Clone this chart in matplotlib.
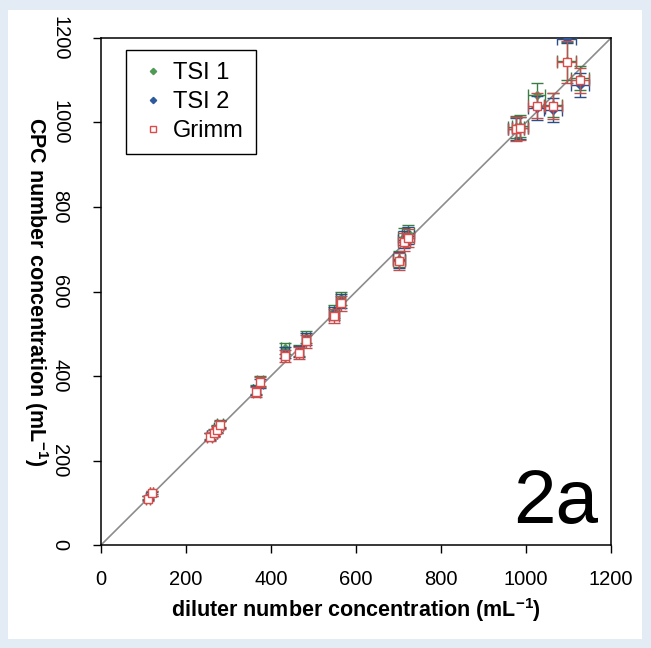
import matplotlib
matplotlib.use('Agg')
import matplotlib.pyplot as plt
from matplotlib.patches import Rectangle

plt.rcParams['font.family'] = ['Liberation Sans', 'DejaVu Sans']
plt.rcParams['mathtext.fontset'] = 'custom'
plt.rcParams['mathtext.rm'] = 'Liberation Sans:bold'
plt.rcParams['mathtext.default'] = 'rm'

# diluter concentration (x) and its error
diluter = [111, 119, 256, 266, 272, 280, 365, 374, 433, 467, 482,
           548, 564, 701, 713, 722, 976, 986, 1025, 1064, 1096, 1127]
diluter_err = [4, 4, 6, 6, 6, 6, 8, 8, 9, 9, 10,
               11, 11, 14, 14, 14, 19, 19, 20, 21, 22, 22]

# CPC readings
tsi1 = [112, 124, 258, 267, 276, 287, 368, 388, 466, 460, 493,
        553, 584, 678, 730, 738, 990, 992, 1065, 1042, 1146, 1105]
tsi1_err = [4, 4, 8, 8, 8, 8, 11, 11, 13, 13, 14,
            15, 16, 19, 20, 20, 26, 26, 28, 28, 45, 28]
tsi2 = [111, 121, 257, 265, 274, 285, 366, 383, 455, 458, 488,
        548, 578, 675, 723, 732, 985, 988, 1034, 1030, 1198, 1089]
tsi2_err = [4, 4, 8, 8, 8, 8, 11, 11, 13, 13, 14,
            15, 16, 19, 20, 20, 26, 26, 28, 28, 10, 28]
grimm = [110, 122, 255, 264, 273, 284, 362, 385, 448, 455, 482,
         542, 572, 672, 718, 726, 984, 986, 1040, 1039, 1144, 1100]
grimm_err = [5, 5, 9, 9, 9, 9, 12, 12, 14, 14, 15,
             16, 17, 20, 21, 21, 28, 28, 30, 30, 50, 30]

fig = plt.figure(figsize=(6.51, 6.48), dpi=100, facecolor='#e3ebf5')
fig.patches.append(Rectangle((8 / 651, 9 / 648), 634 / 651, 629 / 648,
                             transform=fig.transFigure, facecolor='white',
                             edgecolor='none', zorder=-10))
ax = fig.add_axes([101 / 651, 103 / 648, 510 / 651, 507 / 648])
ax.set_zorder(5)

ax.plot([0, 1200], [0, 1200], color='#8c8c8c', lw=1.2, zorder=1)

ax.errorbar(diluter, tsi1, xerr=diluter_err, yerr=tsi1_err, fmt='D',
            ms=4, color='#4f9a55', mec='#4f9a55', ecolor='#3d7d44',
            elinewidth=1, capsize=4, label='TSI 1', zorder=2)
ax.errorbar(diluter, tsi2, xerr=diluter_err, yerr=tsi2_err, fmt='D',
            ms=4, color='#2c5a9c', mec='#2c5a9c', ecolor='#2a4f86',
            elinewidth=1, capsize=4, label='TSI 2', zorder=3)
ax.errorbar(diluter, grimm, xerr=diluter_err, yerr=grimm_err, fmt='s',
            ms=6, mfc='white', mec='#dd4b4b', mew=1, ecolor='#c0504d',
            elinewidth=1, capsize=4, label='Grimm', zorder=4)

ax.set_xlim(0, 1200)
ax.set_ylim(0, 1200)
ax.set_xticks(range(0, 1201, 200))
ax.set_yticks(range(0, 1201, 200))
ax.tick_params(direction='out', length=6, width=1, labelsize=14.5,
               top=False, right=False)
ax.tick_params(axis='x', pad=12)
ax.tick_params(axis='y', pad=17)
for lab in ax.get_yticklabels():
    lab.set_rotation(270)
    lab.set_va('center')
for s in ax.spines.values():
    s.set_linewidth(1.1)

ax.set_xlabel(r'diluter number concentration (mL$^{-1}$)',
              fontsize=15.5, fontweight='bold', va='center')
ax.set_ylabel(r'CPC number concentration (mL$^{-1}$)',
              fontsize=15.5, fontweight='bold', rotation=270, va='center')
ax.xaxis.set_label_coords(0.5, -0.128)
ax.yaxis.set_label_coords(-0.128, 0.5)

ax.text(1169, 52, '2a', fontsize=55, ha='right', va='baseline')

handles, labels = ax.get_legend_handles_labels()
handles = [h[0] for h in handles]
leg = ax.legend(handles, labels, loc='upper left',
                bbox_to_anchor=(0.049, 0.976), borderaxespad=0,
                fontsize=17, frameon=True,
                fancybox=False, edgecolor='black', framealpha=1,
                handlelength=1.3, handletextpad=0.2, labelspacing=0.3,
                borderpad=0.5, markerscale=0.8)
leg.get_frame().set_linewidth(1)

fig.savefig('out.png', dpi=100, facecolor=fig.get_facecolor())
